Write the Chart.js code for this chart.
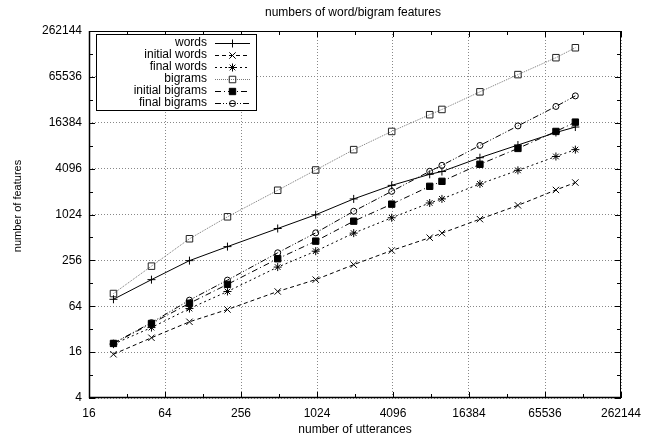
<!DOCTYPE html>
<html>
<head>
<meta charset="utf-8">
<script src="https://cdn.jsdelivr.net/npm/chart.js@4/dist/chart.umd.min.js"></script>
<style>
  body { margin: 0; background: #fff; }
  #wrap { width: 652px; height: 438px; position: relative; }
</style>
</head>
<body>
<div id="wrap"><canvas id="featChart"></canvas></div>
<script>
// number of utterances (x)
const utterances = [25, 50, 100, 200, 500, 1000, 2000, 4000, 8000, 10000, 20000, 40000, 80000, 114000];

// number of features per series (y)
const words          = [79, 143, 254, 388, 671, 1016, 1640, 2470, 3450, 3750, 5700, 8360, 12200, 14400];
const initialWords   = [15, 24.7, 40, 58, 100, 143, 225, 345, 508, 583, 890, 1350, 2150, 2690];
const finalWords     = [20.4, 33.6, 59.7, 100, 209, 338, 583, 928, 1450, 1640, 2580, 3890, 5910, 7270];
const bigrams        = [94, 215, 492, 955, 2130, 3930, 7270, 12600, 20900, 24500, 41700, 70200, 117000, 158000];
const initialBigrams = [20.8, 38, 70, 124, 269, 458, 837, 1400, 2400, 2790, 4670, 7540, 12600, 16700];
const finalBigrams   = [21, 39, 77, 141, 322, 588, 1130, 2060, 3780, 4520, 8250, 14900, 26800, 36900];

// tick powers of two, labels only on powers of four
const xTickPowers = [4, 5, 6, 7, 8, 9, 10, 11, 12, 13, 14, 15, 16, 17, 18];
const yTickPowers = [2, 3, 4, 5, 6, 7, 8, 9, 10, 11, 12, 13, 14, 15, 16, 17, 18];

const FONT = "'Liberation Sans', Arial, sans-serif";

function toPoints(ys) {
    return utterances.map((x, i) => ({ x: x, y: ys[i] }));
}

function powTicks(powers) {
    return function(scale) {
        scale.ticks = powers.map(p => ({ value: Math.pow(2, p) }));
    };
}

function labelEvenPowers(value) {
    const p = Math.round(Math.log2(value));
    return p % 2 === 0 ? String(value) : '';
}

function gridColor(ctx) {
    if (!ctx.tick) return 'rgba(0,0,0,0)';
    const p = Math.round(Math.log2(ctx.tick.value));
    return p % 2 === 0 ? '#888' : 'rgba(0,0,0,0)';
}

// frame, inward ticks, titles and the boxed legend in gnuplot style
const gnuplotDecor = {
    id: 'gnuplotDecor',
    afterDatasetsDraw(chart) {
        const ctx = chart.ctx;
        const a = chart.chartArea;
        const xs = chart.scales.x, ys = chart.scales.y;
        ctx.save();
        ctx.strokeStyle = '#000';
        ctx.lineWidth = 1;
        ctx.setLineDash([]);
        ctx.strokeRect(a.left + 0.5, a.top + 0.5, a.right - a.left - 1, a.bottom - a.top - 1);
        ctx.lineWidth = 1.5;
        ctx.beginPath();
        ctx.moveTo(a.left + 0.5, a.top);
        ctx.lineTo(a.left + 0.5, a.bottom - 0.5);
        ctx.lineTo(a.right, a.bottom - 0.5);
        ctx.stroke();

        ctx.lineWidth = 1;
        ctx.beginPath();
        xTickPowers.forEach(p => {
            const px = Math.round(xs.getPixelForValue(Math.pow(2, p))) + 0.5;
            const len = p % 2 === 0 ? 6 : 4;
            ctx.moveTo(px, a.bottom); ctx.lineTo(px, a.bottom - len);
            ctx.moveTo(px, a.top); ctx.lineTo(px, a.top + len);
        });
        yTickPowers.forEach(p => {
            const py = Math.round(ys.getPixelForValue(Math.pow(2, p))) + 0.5;
            const len = p % 2 === 0 ? 6 : 4;
            ctx.moveTo(a.left, py); ctx.lineTo(a.left + len, py);
            ctx.moveTo(a.right, py); ctx.lineTo(a.right - len, py);
        });
        ctx.stroke();

        // titles
        ctx.fillStyle = '#000';
        ctx.font = '12px ' + FONT;
        ctx.textAlign = 'center';
        ctx.textBaseline = 'middle';
        ctx.fillText('numbers of word/bigram features', 353, 13);
        ctx.fillText('number of utterances', 355, 430);
        ctx.save();
        ctx.translate(18, 206);
        ctx.rotate(-Math.PI / 2);
        ctx.font = '11px ' + FONT;
        ctx.fillText('number of features', 0, 0);
        ctx.restore();

        // legend box with sample lines and markers
        ctx.fillStyle = '#fff';
        ctx.fillRect(96, 34, 160, 76);
        ctx.strokeStyle = '#000';
        ctx.lineWidth = 1;
        ctx.strokeRect(96.5, 34.5, 160, 76);
        ctx.textAlign = 'right';
        chart.data.datasets.forEach((ds, i) => {
            const y = 43 + i * 12;
            ctx.fillStyle = '#000';
            ctx.fillText(ds.label, 207, y);
            ctx.strokeStyle = ds.borderColor;
            ctx.lineWidth = ds.borderWidth;
            ctx.setLineDash(ds.borderDash || []);
            ctx.beginPath();
            ctx.moveTo(215, y + 0.5);
            ctx.lineTo(250, y + 0.5);
            ctx.stroke();
            ctx.setLineDash([]);
            ctx.strokeStyle = ds.pointBorderColor;
            ctx.fillStyle = ds.pointBackgroundColor;
            ctx.lineWidth = 1;
            Chart.helpers.drawPoint(ctx, {
                pointStyle: ds.pointStyle,
                radius: ds.pointRadius,
                rotation: 0,
                borderWidth: 1
            }, 232.5, y + 0.5);
        });
        ctx.restore();
    }
};

function series(label, data, opts) {
    return Object.assign({
        label: label,
        data: toPoints(data),
        borderColor: '#000',
        borderWidth: 1,
        pointBorderColor: '#000',
        pointBackgroundColor: 'rgba(0,0,0,0)',
        pointBorderWidth: 1,
        pointRadius: 3.5,
        pointHoverRadius: 3.5,
        fill: false,
        tension: 0
    }, opts);
}

const datasets = [
    series('words', words, { pointStyle: 'cross', pointRadius: 4 }),
    series('initial words', initialWords, { borderDash: [4, 3], pointStyle: 'crossRot', pointRadius: 4.5 }),
    series('final words', finalWords, { borderDash: [2, 3], pointStyle: 'star', pointRadius: 4 }),
    series('bigrams', bigrams, { borderColor: '#777', borderDash: [1, 1], pointBorderColor: '#222', pointStyle: 'rect', pointRadius: 4.6 }),
    series('initial bigrams', initialBigrams, { borderDash: [6, 3, 1, 3], pointStyle: 'rect', pointBackgroundColor: '#000', pointRadius: 4.5 }),
    series('final bigrams', finalBigrams, { borderDash: [6, 2, 1, 2, 1, 2], pointStyle: 'circle', pointRadius: 3 })
];

document.addEventListener('DOMContentLoaded', function() {
    const ctx = document.getElementById('featChart').getContext('2d');
    new Chart(ctx, {
        type: 'line',
        data: { datasets: datasets },
        options: {
            responsive: true,
            maintainAspectRatio: false,
            animation: false,
            layout: { padding: { top: 31, right: 31, left: 0, bottom: 0 } },
            scales: {
                x: {
                    type: 'logarithmic',
                    min: 16,
                    max: 262144,
                    afterBuildTicks: powTicks(xTickPowers),
                    afterFit: function(s) { s.height = 40; },
                    border: { display: false, dash: [1, 2] },
                    grid: { color: gridColor, lineWidth: 1, drawTicks: false },
                    ticks: {
                        autoSkip: false,
                        maxRotation: 0,
                        padding: 8,
                        color: '#000',
                        font: { family: FONT, size: 12 },
                        callback: labelEvenPowers
                    }
                },
                y: {
                    type: 'logarithmic',
                    min: 4,
                    max: 262144,
                    afterBuildTicks: powTicks(yTickPowers),
                    afterFit: function(s) { s.width = 89; },
                    border: { display: false, dash: [1, 2] },
                    grid: { color: gridColor, lineWidth: 1, drawTicks: false },
                    ticks: {
                        autoSkip: false,
                        padding: 7,
                        color: '#000',
                        font: { family: FONT, size: 12 },
                        callback: labelEvenPowers
                    }
                }
            },
            plugins: {
                legend: { display: false },
                title: { display: false },
                tooltip: { enabled: false }
            }
        },
        plugins: [gnuplotDecor]
    });
});
</script>
</body>
</html>
